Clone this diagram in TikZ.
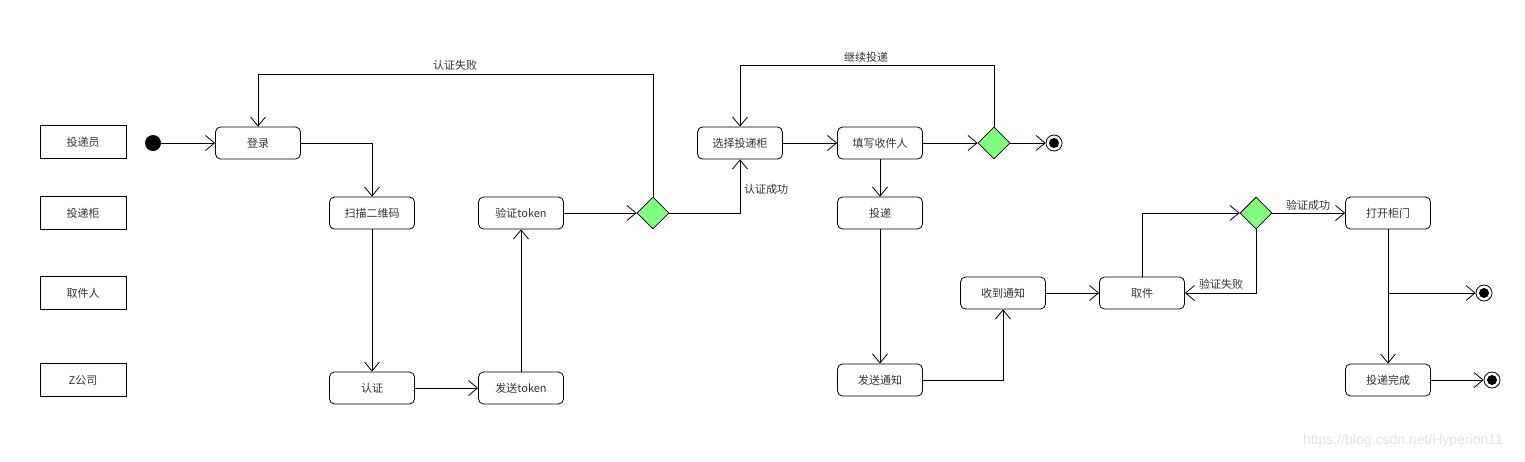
\documentclass[tikz,border=0pt]{standalone}
\usepackage{fontspec}
\newfontfamily\cjk{Noto Sans CJK SC}
\newfontfamily\wmfont{Liberation Sans}
\usetikzlibrary{arrows.meta,shapes.geometric}
\definecolor{decgreen}{HTML}{80FF80}
\begin{document}
\begin{tikzpicture}[x=1pt,y=-1pt,
  every node/.style={font=\cjk\fontsize{11}{13}\selectfont, text=black!80},
  act/.style={draw, rounded corners=5pt, minimum width=85pt, minimum height=32pt, inner sep=0pt, line width=0.8pt},
  lane/.style={draw, minimum width=86pt, minimum height=33pt, inner sep=0pt, line width=0.8pt},
  dec/.style={diamond, draw, fill=decgreen, aspect=1, minimum width=32pt, minimum height=32pt, inner sep=0pt, line width=0.8pt},
  startnode/.style={circle, fill=black, minimum size=16pt, inner sep=0pt},
  endnode/.style={circle, draw, line width=0.8pt, minimum size=16pt, inner sep=0pt,
     path picture={\fill[black] (path picture bounding box.center) circle (5pt);}},
  flow/.style={-{Straight Barb[length=9pt,width=15pt,line width=0.8pt]}, line width=0.8pt},
  lbl/.style={inner sep=1pt}
]
\useasboundingbox (0,0) rectangle (1525,461);

% lanes
\node[lane] (l1) at (83,142) {投递员};
\node[lane] (l2) at (83,213) {投递柜};
\node[lane] (l3) at (83,293) {取件人};
\node[lane] (l4) at (83,380) {Z公司};

% nodes
\node[startnode] (init) at (153,143) {};
\node[act] (login) at (258,143) {登录};
\node[act] (scan) at (372,213) {扫描二维码};
\node[act] (auth) at (372,388) {认证};
\node[act] (send) at (521,388) {发送token};
\node[act] (verify) at (521,213) {验证token};
\node[dec] (d1) at (653,213) {};
\node[act] (choose) at (740,143) {选择投递柜};
\node[act] (fill) at (880,143) {填写收件人};
\node[dec] (d2) at (994,143) {};
\node[endnode] (f1) at (1054,143) {};
\node[act] (deliver) at (880,213) {投递};
\node[act] (notify) at (880,380) {发送通知};
\node[act] (recv) at (1003,293) {收到通知};
\node[act] (pick) at (1142,293) {取件};
\node[dec] (d3) at (1256,213) {};
\node[act] (open) at (1388,213) {打开柜门};
\node[act] (done) at (1388,380) {投递完成};
\node[endnode] (f2) at (1484,293) {};
\node[endnode] (f3) at (1492,380) {};
\coordinate (br) at (1388,293);

% edges
\draw[flow] (init) -- (login);
\draw[flow] (login.east) -| (scan.north);
\draw[flow] (scan) -- (auth);
\draw[flow] (auth) -- (send);
\draw[flow] (send) -- (verify);
\draw[flow] (verify) -- (d1.west);
\draw[flow] (d1.north) -- (d1.north |- 0,74) -| (login.north);
\draw[flow] (d1.east) -| (choose.south);
\draw[flow] (choose) -- (fill);
\draw[flow] (fill) -- (d2.west);
\draw[flow] (d2.east) -- (f1);
\draw[flow] (d2.north) -- (d2.north |- 0,65) -| (choose.north);
\draw[flow] (fill) -- (deliver);
\draw[flow] (deliver) -- (notify);
\draw[flow] (notify.east) -| (recv.south);
\draw[flow] (recv) -- (pick);
\draw[flow] (pick.north) |- (d3.west);
\draw[flow] (d3.east) -- (open.west);
\draw[flow] (d3.south) |- (pick.east);
\draw[flow] (open) -- (done);
\draw[flow] (br) -- (f2);
\draw[flow] (done) -- (f3);

% labels
\node[lbl] (t1) at (455,65) {认证失败};
\node[lbl, anchor=west] (t2) at (743,189) {认证成功};
\node[lbl] (t3) at (866,57) {继续投递};
\node[lbl] (t4) at (1308,205) {验证成功};
\node[lbl] (t5) at (1221,284) {验证失败};

% watermark
\node[font=\wmfont\fontsize{14}{16}\selectfont, text=black!10] (wm) at (1403,441) {https://blog.csdn.net/Hyperion11};
\end{tikzpicture}
\end{document}
